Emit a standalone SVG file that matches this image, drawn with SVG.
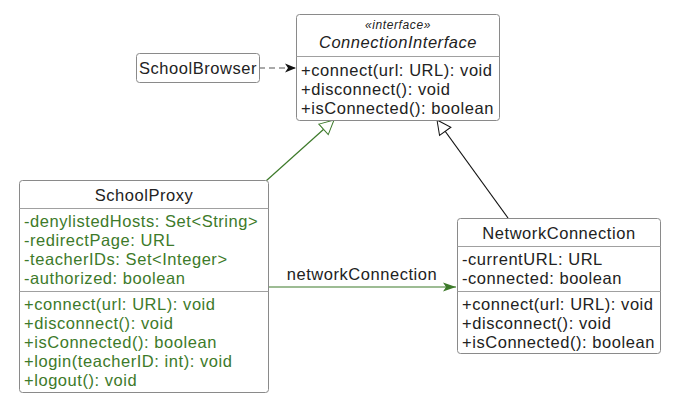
<svg xmlns="http://www.w3.org/2000/svg" width="676" height="410" viewBox="0 0 676 410">
<style>
.box{fill:#fff;stroke:#8a8a8a;stroke-width:1}
.div{stroke:#a0a0a0;stroke-width:1}
text{font-family:"Liberation Sans",Arial,sans-serif;font-size:16.5px;letter-spacing:0.55px;fill:#222}
.g{fill:#3d7a2a}
.c{text-anchor:middle}
.it{font-style:italic}
.st{font-size:12px;letter-spacing:0.6px}
</style>
<defs>
<marker id="arrB" viewBox="0 0 12 10" refX="11" refY="5" markerWidth="12" markerHeight="10" markerUnits="userSpaceOnUse" orient="auto">
<path d="M0,0.5 L11,5 L0,9.5 L3,5 Z" fill="#111"/>
</marker>
<marker id="arrG" viewBox="0 0 14 10" refX="13" refY="5" markerWidth="14" markerHeight="10" markerUnits="userSpaceOnUse" orient="auto">
<path d="M0,0.5 L13,5 L0,9.5 L3,5 Z" fill="#3d7a2a"/>
</marker>
<marker id="triB" viewBox="0 0 16 16" refX="15" refY="8" markerWidth="16" markerHeight="16" markerUnits="userSpaceOnUse" orient="auto">
<path d="M1,1 L15,8 L1,15 Z" fill="#fff" stroke="#111" stroke-width="1"/>
</marker>
<marker id="triG" viewBox="0 0 16 16" refX="15" refY="8" markerWidth="16" markerHeight="16" markerUnits="userSpaceOnUse" orient="auto">
<path d="M1,1 L15,8 L1,15 Z" fill="#fff" stroke="#3d7a2a" stroke-width="1"/>
</marker>
</defs>
<g id="connectors">
<line x1="259" y1="68" x2="296" y2="68" stroke="#555" stroke-width="1.2" stroke-dasharray="6,4" marker-end="url(#arrB)"/>
<line x1="266" y1="181" x2="334" y2="120" stroke="#3d7a2a" stroke-width="1.2" marker-end="url(#triG)"/>
<line x1="508" y1="218" x2="437" y2="120" stroke="#111" stroke-width="1.2" marker-end="url(#triB)"/>
<line x1="268" y1="287" x2="456" y2="287" stroke="#3d7a2a" stroke-width="1.2" marker-end="url(#arrG)"/>
<text class="c" x="362" y="280">networkConnection</text>
</g>
<g id="ConnectionInterface">
<rect class="box" x="296.5" y="14.5" width="203" height="106" rx="3"/>
<text class="c it st" x="398" y="29">«interface»</text>
<text class="c it" x="398" y="48">ConnectionInterface</text>
<line class="div" x1="296.5" y1="56.5" x2="499.5" y2="56.5"/>
<text x="301" y="76">+connect(url: URL): void</text>
<text x="301" y="95">+disconnect(): void</text>
<text x="301" y="114">+isConnected(): boolean</text>
</g>
<g id="SchoolBrowser">
<rect class="box" x="136.5" y="53.5" width="123" height="29" rx="3"/>
<text class="c" x="198" y="74">SchoolBrowser</text>
</g>
<g id="SchoolProxy">
<rect class="box" x="19.5" y="180.5" width="249" height="212" rx="3"/>
<text class="c" x="144" y="201">SchoolProxy</text>
<line class="div" x1="19.5" y1="208.5" x2="268.5" y2="208.5"/>
<text class="g" x="24" y="227">-denylistedHosts: Set&lt;String&gt;</text>
<text class="g" x="24" y="246">-redirectPage: URL</text>
<text class="g" x="24" y="265">-teacherIDs: Set&lt;Integer&gt;</text>
<text class="g" x="24" y="284">-authorized: boolean</text>
<line class="div" x1="19.5" y1="291.5" x2="268.5" y2="291.5"/>
<text class="g" x="24" y="310">+connect(url: URL): void</text>
<text class="g" x="24" y="329">+disconnect(): void</text>
<text class="g" x="24" y="348">+isConnected(): boolean</text>
<text class="g" x="24" y="367">+login(teacherID: int): void</text>
<text class="g" x="24" y="386">+logout(): void</text>
</g>
<g id="NetworkConnection">
<rect class="box" x="457.5" y="218.5" width="203" height="135" rx="3"/>
<text class="c" x="559" y="239">NetworkConnection</text>
<line class="div" x1="457.5" y1="246.5" x2="660.5" y2="246.5"/>
<text x="462" y="265">-currentURL: URL</text>
<text x="462" y="284">-connected: boolean</text>
<line class="div" x1="457.5" y1="291.5" x2="660.5" y2="291.5"/>
<text x="462" y="310">+connect(url: URL): void</text>
<text x="462" y="329">+disconnect(): void</text>
<text x="462" y="348">+isConnected(): boolean</text>
</g>
</svg>
